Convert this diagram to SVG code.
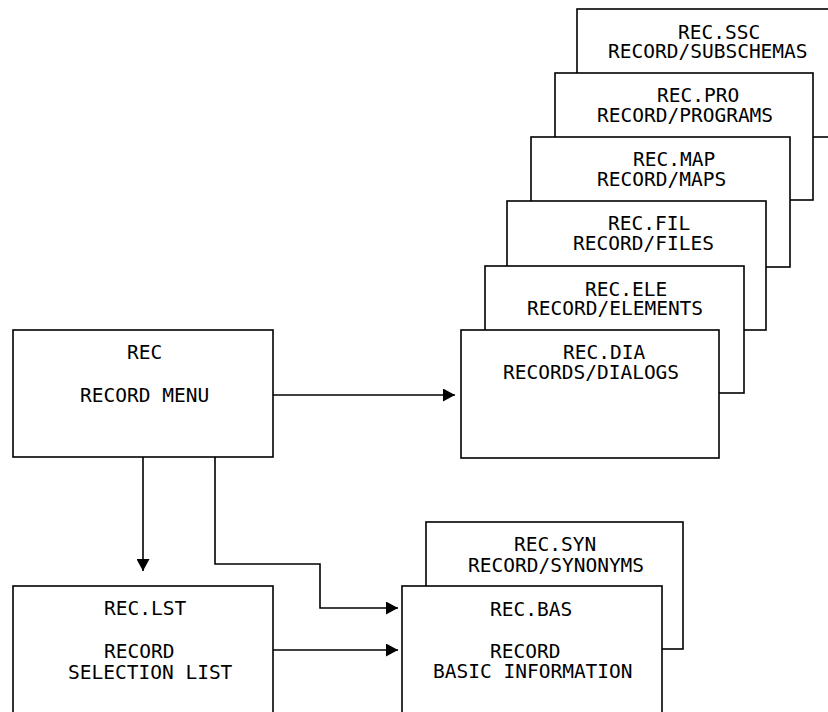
<svg xmlns="http://www.w3.org/2000/svg" width="828" height="712" viewBox="0 0 828 712">
<style>
.box{fill:#fff;stroke:#000;stroke-width:1.6}
.t{font-family:"DejaVu Sans Mono","Liberation Mono",monospace;font-size:19.5px;fill:#000}
.c{fill:none;stroke:#000;stroke-width:1.6}
</style>
<defs>
<marker id="ah" markerUnits="userSpaceOnUse" markerWidth="12" markerHeight="13" viewBox="0 0 12 13" refX="12" refY="6.5" orient="auto">
<path d="M0,0 L12,6.5 L0,13 Z" fill="#000"/>
</marker>
</defs>
<g id="rec-ssc"><rect class="box" x="577" y="9" width="258" height="128"/>
<text class="t" x="678" y="39">REC.SSC</text><text class="t" x="608" y="58">RECORD/SUBSCHEMAS</text></g>
<g id="rec-pro"><rect class="box" x="555" y="73" width="258" height="127"/>
<text class="t" x="657" y="102">REC.PRO</text><text class="t" x="597" y="122">RECORD/PROGRAMS</text></g>
<g id="rec-map"><rect class="box" x="531" y="137" width="259" height="130"/>
<text class="t" x="633" y="166">REC.MAP</text><text class="t" x="597" y="186">RECORD/MAPS</text></g>
<g id="rec-fil"><rect class="box" x="507" y="201" width="259" height="129"/>
<text class="t" x="608" y="230">REC.FIL</text><text class="t" x="573" y="250">RECORD/FILES</text></g>
<g id="rec-ele"><rect class="box" x="485" y="266" width="259" height="127"/>
<text class="t" x="585" y="296">REC.ELE</text><text class="t" x="527" y="315">RECORD/ELEMENTS</text></g>
<g id="rec-dia"><rect class="box" x="461" y="330" width="258" height="128"/>
<text class="t" x="563" y="359">REC.DIA</text><text class="t" x="503" y="379">RECORDS/DIALOGS</text></g>
<g id="rec"><rect class="box" x="13" y="330" width="260" height="127"/>
<text class="t" x="127" y="359">REC</text><text class="t" x="80" y="402">RECORD MENU</text></g>
<g id="rec-lst"><rect class="box" x="13" y="586" width="260" height="140"/>
<text class="t" x="104" y="615">REC.LST</text><text class="t" x="104" y="658">RECORD</text><text class="t" x="68" y="679">SELECTION LIST</text></g>
<g id="rec-syn"><rect class="box" x="426" y="522" width="257" height="127"/>
<text class="t" x="514" y="551">REC.SYN</text><text class="t" x="468" y="572">RECORD/SYNONYMS</text></g>
<g id="rec-bas"><rect class="box" x="402" y="586" width="260" height="140"/>
<text class="t" x="490" y="616">REC.BAS</text><text class="t" x="490" y="658">RECORD</text><text class="t" x="433" y="678">BASIC INFORMATION</text></g>
<g id="connectors">
<path class="c" d="M273,395 H455" marker-end="url(#ah)"/>
<path class="c" d="M143,457 V571" marker-end="url(#ah)"/>
<path class="c" d="M215,457 V564 H320 V608 H398" marker-end="url(#ah)"/>
<path class="c" d="M273,650 H398" marker-end="url(#ah)"/>
</g>
</svg>
